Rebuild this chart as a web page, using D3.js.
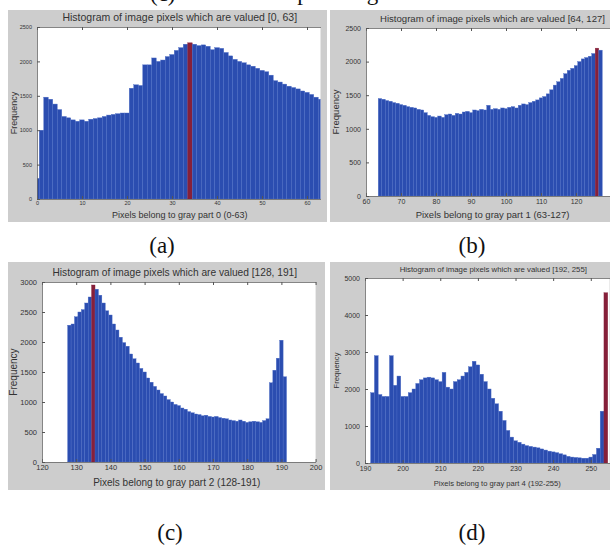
<!DOCTYPE html>
<html lang="en">
<head>
<meta charset="UTF-8">
<title>Gray part histograms</title>
<script src="https://d3js.org/d3.v7.min.js"></script>
<style>
  body { margin: 0; background: #fff; }
  svg text { font-family: "Liberation Sans", Arial, sans-serif; fill: #333; }
  .caption { font-family: "Liberation Serif", "Times New Roman", serif; font-size: 23px; fill: #111; }
</style>
</head>
<body>
<div id="chart"></div>
<script>
// ---- data ----
// (a) gray part 0
const aStart = 0;
const aCounts = [300, 1000, 1480, 1450, 1380, 1300, 1200, 1180, 1150, 1130, 1150, 1130, 1160, 1170, 1180, 1200,
  1220, 1230, 1240, 1250, 1250, 1610, 1660, 1650, 1950, 1950, 2050, 2000, 2020, 2070, 2100, 2160,
  2200, 2250, 2270, 2250, 2230, 2240, 2220, 2170, 2200, 2190, 2130, 2080, 2030, 2000, 1980, 1950,
  1930, 1900, 1870, 1850, 1800, 1720, 1700, 1670, 1640, 1620, 1600, 1570, 1550, 1520, 1480, 1450];
const aPeak = 34;
const aXTicks = [0, 10, 20, 30, 40, 50, 60];
const aYTicks = [0, 500, 1000, 1500, 2000, 2500];

// (b) gray part 1
const bStart = 64;
const bCounts = [1450, 1440, 1420, 1410, 1390, 1380, 1360, 1350, 1330, 1320, 1310, 1290, 1280, 1240, 1200, 1180,
  1170, 1190, 1170, 1210, 1220, 1200, 1230, 1220, 1250, 1260, 1240, 1280, 1270, 1290, 1280, 1350,
  1290, 1300, 1290, 1310, 1300, 1320, 1330, 1310, 1350, 1370, 1360, 1390, 1410, 1430, 1460, 1480,
  1520, 1580, 1650, 1700, 1750, 1820, 1870, 1900, 1940, 2000, 2040, 2060, 2080, 2120, 2200, 2170];
const bPeak = 126;
const bXTicks = [60, 70, 80, 90, 100, 110, 120];
const bYTicks = [0, 500, 1000, 1500, 2000, 2500];

// (c) gray part 2
const cStart = 128;
const cCounts = [2280, 2300, 2420, 2500, 2540, 2650, 2750, 2950, 2880, 2780, 2650, 2520, 2450, 2300, 2200, 2080,
  1990, 1930, 1800, 1720, 1650, 1560, 1500, 1400, 1330, 1260, 1200, 1140, 1100, 1040, 1000, 960,
  940, 900, 880, 840, 820, 800, 790, 770, 780, 760, 750, 760, 740, 730, 720, 700,
  690, 680, 700, 680, 660, 670, 680, 670, 660, 690, 720, 1320, 1530, 1730, 2030, 1420];
const cPeak = 135;
const cXTicks = [120, 130, 140, 150, 160, 170, 180, 190, 200];
const cYTicks = [0, 500, 1000, 1500, 2000, 2500, 3000];

// (d) gray part 4
const dStart = 192;
const dCounts = [1900, 2900, 1850, 1800, 1800, 2900, 2100, 2350, 1800, 1800, 1900, 2000, 2150, 2250, 2300, 2320,
  2300, 2250, 2200, 2450, 2050, 2000, 2200, 2250, 2350, 2450, 2600, 2750, 2650, 2400, 2200, 2000,
  1750, 1600, 1400, 1150, 880, 700, 600, 560, 510, 470, 450, 430, 410, 380, 350, 320,
  300, 280, 250, 220, 180, 160, 150, 140, 130, 130, 160, 230, 400, 1400, 4600, 0];
const dPeak = 254;
const dXTicks = [190, 200, 210, 220, 230, 240, 250];
const dYTicks = [0, 1000, 2000, 3000, 4000, 5000];

const svg = d3.select("#chart").append("svg")
  .attr("width", 610)
  .attr("height", 546);

// caption of the figure above, cut off by the crop (only descenders show)
svg.append("text").attr("class", "caption").attr("x", 150).attr("y", 1).text("(c)");
svg.append("text").attr("class", "caption").attr("x", 278).attr("y", 0).text("Input image");

function drawPanel(p) {
  const g = svg.append("g");

  g.append("rect")
    .attr("x", p.frame[0]).attr("y", p.frame[1])
    .attr("width", p.frame[2] - p.frame[0]).attr("height", p.frame[3] - p.frame[1])
    .attr("fill", "#cdcdcd");

  const x = d3.scaleLinear().domain(p.xDomain).range([p.plot[0], p.plot[2]]);
  const y = d3.scaleLinear().domain(p.yDomain).range([p.plot[3], p.plot[1]]);

  g.append("rect")
    .attr("x", p.plot[0]).attr("y", p.plot[1])
    .attr("width", p.plot[2] - p.plot[0]).attr("height", p.plot[3] - p.plot[1])
    .attr("fill", "#fff");

  const clipId = "clip-" + p.id;
  g.append("clipPath").attr("id", clipId)
    .append("rect")
    .attr("x", p.plot[0]).attr("y", p.plot[1])
    .attr("width", p.plot[2] - p.plot[0]).attr("height", p.plot[3] - p.plot[1]);

  const data = p.counts.map((c, i) => ({ v: p.start + i, c: c }));

  g.append("g").attr("clip-path", `url(#${clipId})`)
    .selectAll("rect")
    .data(data)
    .join("rect")
    .attr("x", d => x(d.v - 0.5))
    .attr("width", d => x(d.v + 0.5) - x(d.v - 0.5))
    .attr("y", d => y(d.c))
    .attr("height", d => y(0) - y(d.c))
    .attr("fill", d => d.v === p.peak ? "#86203a" : "#2b4db0")
    .attr("stroke", d => d.v === p.peak ? "#86203a" : "#4d6dc6")
    .attr("stroke-width", 0.4);

  // axes, ticks pointing inside like matlab
  const xAxis = g.append("g")
    .attr("transform", `translate(0,${p.plot[3]})`)
    .call(d3.axisBottom(x).tickValues(p.xTicks).tickFormat(d3.format("d"))
      .tickSizeInner(-3).tickSizeOuter(0).tickPadding(p.xPad));
  xAxis.selectAll("text").style("font-size", p.tickFont + "px");

  g.append("g")
    .attr("transform", `translate(0,${p.plot[1]})`)
    .call(d3.axisTop(x).tickValues(p.xTicks).tickSizeInner(-3).tickSizeOuter(0).tickFormat(""));

  const yAxis = g.append("g")
    .attr("transform", `translate(${p.plot[0]},0)`)
    .call(d3.axisLeft(y).tickValues(p.yTicks).tickFormat(d3.format("d"))
      .tickSizeInner(-3).tickSizeOuter(0).tickPadding(5));
  yAxis.selectAll("text").style("font-size", p.tickFont + "px");

  g.selectAll(".domain").attr("stroke", "#666").attr("stroke-width", 0.8);
  g.selectAll(".tick line").attr("stroke", "#555");

  // title and labels
  g.append("text")
    .attr("x", (p.plot[0] + p.plot[2]) / 2 + p.titleShift)
    .attr("y", p.plot[1] - 6)
    .attr("text-anchor", "middle")
    .style("font-size", p.titleFont + "px")
    .text(p.title);

  g.append("text")
    .attr("x", (p.plot[0] + p.plot[2]) / 2 + p.labelShift)
    .attr("y", p.frame[3] - 4)
    .attr("text-anchor", "middle")
    .style("font-size", p.labelFont + "px")
    .text(p.xLabel);

  g.append("text")
    .attr("transform", `translate(${p.frame[0] + 9},${(p.plot[1] + p.plot[3]) / 2}) rotate(-90)`)
    .attr("text-anchor", "middle")
    .style("font-size", p.labelFont + "px")
    .text("Frequency");

  svg.append("text")
    .attr("class", "caption")
    .attr("x", p.caption[0]).attr("y", p.caption[1])
    .attr("text-anchor", "middle")
    .text(p.captionText);
}

drawPanel({
  id: "a", start: aStart, counts: aCounts, peak: aPeak, xTicks: aXTicks, yTicks: aYTicks,
  xDomain: [0, 63], yDomain: [0, 2500],
  frame: [8, 10, 327, 222], plot: [37, 27, 320.5, 199],
  title: "Histogram of image pixels which are valued [0, 63]",
  xLabel: "Pixels belong to gray part 0 (0-63)",
  titleFont: 10.5, labelFont: 9, tickFont: 5.5, xPad: 2, titleShift: 1, labelShift: 1,
  caption: [162, 253], captionText: "(a)"
});

drawPanel({
  id: "b", start: bStart, counts: bCounts, peak: bPeak, xTicks: bXTicks, yTicks: bYTicks,
  xDomain: [60, 130], yDomain: [0, 2500],
  frame: [330, 10, 612, 222], plot: [366, 28, 611, 196],
  title: "Histogram of image pixels which are valued [64, 127]",
  xLabel: "Pixels belong to gray part 1 (63-127)",
  titleFont: 9.6, labelFont: 9.5, tickFont: 7, xPad: 3, titleShift: 4, labelShift: 4,
  caption: [472, 253], captionText: "(b)"
});

drawPanel({
  id: "c", start: cStart, counts: cCounts, peak: cPeak, xTicks: cXTicks, yTicks: cYTicks,
  xDomain: [120, 200], yDomain: [0, 3000],
  frame: [8, 262, 325, 490], plot: [42, 282, 315.6, 462],
  title: "Histogram of image pixels which are valued [128, 191]",
  xLabel: "Pixels belong to gray part 2 (128-191)",
  titleFont: 10.2, labelFont: 10, tickFont: 7.5, xPad: 3, titleShift: -4, labelShift: -2,
  caption: [170, 540], captionText: "(c)"
});

drawPanel({
  id: "d", start: dStart, counts: dCounts, peak: dPeak, xTicks: dXTicks, yTicks: dYTicks,
  xDomain: [190, 255], yDomain: [0, 5000],
  frame: [330, 262, 612, 490], plot: [365, 278, 609.6, 463],
  title: "Histogram of image pixels which are valued [192, 255]",
  xLabel: "Pixels belong to gray part 4 (192-255)",
  titleFont: 7.8, labelFont: 7.6, tickFont: 7, xPad: 3, titleShift: 6, labelShift: 10,
  caption: [472, 540], captionText: "(d)"
});
</script>
</body>
</html>
